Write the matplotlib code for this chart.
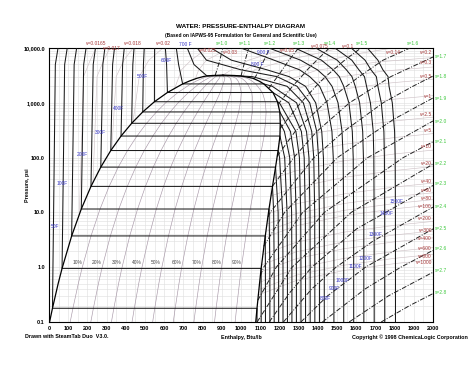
import numpy as np
import matplotlib
matplotlib.use('Agg')
import matplotlib.pyplot as plt
from matplotlib.ticker import FixedLocator, NullFormatter

plt.rcParams['font.family'] = ['Liberation Sans', 'DejaVu Sans']

# saturation dome: pressure (psia), sat. liquid / sat. vapour enthalpy (Btu/lb)
SAT_P = [0.1, 0.178, 0.5, 0.95, 3.72, 11.53, 29.82, 67.03, 134.6, 247.3, 422.5,
         680.9, 1045.7, 1541.7, 2209.6, 2500, 2800, 3000, 3094, 3150, 3200.1]
SAT_HF = [3.0, 18.07, 47.6, 68.05, 118.0, 168.1, 218.6, 269.7, 321.8, 375.2, 430.5,
          488.1, 549.1, 616.9, 696.0, 731.7, 770, 802, 822.4, 850, 906]
SAT_HG = [1076.8, 1083.4, 1096.4, 1105.0, 1126.4, 1145.8, 1164.0, 1180.0, 1193.2, 1202.9, 1204.6,
          1202.2, 1190.0, 1166.4, 1119.0, 1093.3, 1062, 1020, 995.6, 966, 906]

QUALITY = [0.1, 0.2, 0.3, 0.4, 0.5, 0.6, 0.7, 0.8, 0.9]

# pressure grid for superheated isotherm values
P_GRID = [0.1, 1, 10, 100, 300, 1000, 2000, 3000, 4000, 6000, 10000]

# sub-critical isotherms (F)
SUB_T = [50, 100, 150, 200, 250, 300, 350, 400, 450, 500, 550, 600, 650, 700]
SUB_PSAT = [0.178, 0.95, 3.72, 11.53, 29.82, 67.03, 134.6, 247.3, 422.5, 680.9, 1045.7, 1541.7, 2209.6, 3094]
SUB_HF = [18.07, 68.05, 118.0, 168.1, 218.6, 269.7, 321.8, 375.2, 430.5, 488.1, 549.1, 616.9, 696.0, 822.4]
SUB_HG = [1083.4, 1105.0, 1126.4, 1145.8, 1164.0, 1180.0, 1193.2, 1202.9, 1204.6, 1202.2, 1190.0, 1166.4, 1119.0, 995.6]
SUB_H5000 = [33, 81.5, 131, 180.6, 230.3, 280.3, 331.3, 383.4, 436.5, 491.8, 549.5, 612.4, 675, 755]
SUB_H10000 = [47, 95, 144, 193, 242, 291, 341, 392, 443, 496, 550, 606, 663, 720]
# vapour enthalpy on P_GRID points below saturation
SUB_VAP = [
    [1083.7],
    [1105.2],
    [1127.5, 1127.1],
    [1150.2, 1150.1, 1146.6],
    [1172.9, 1172.8, 1170.2],
    [1195.8, 1195.7, 1193.4],
    [1218.8, 1218.7, 1216.9, 1200.9],
    [1241.9, 1241.8, 1240.0, 1227.5],
    [1265.2, 1265.1, 1263.6, 1253.7, 1226.0],
    [1288.6, 1288.5, 1287.1, 1279.1, 1257.5],
    [1312.3, 1312.2, 1311.0, 1304.2, 1286.0, 1200.0],
    [1336.2, 1336.1, 1335.0, 1329.1, 1314.5, 1248.8],
    [1360.3, 1360.2, 1359.4, 1354.1, 1341.2, 1289.5, 1163.0],
    [1384.6, 1384.5, 1383.8, 1378.9, 1368.3, 1324.7, 1240.0, 1060.0],
]

# super-critical isotherms, enthalpy on the whole P_GRID
SUP_T = [750, 800, 900, 1000, 1100, 1200, 1300, 1400, 1500]
SUP_H = [
    [1409.1, 1409.0, 1408.4, 1403.9, 1394.5, 1358, 1292, 1188, 1000, 820, 772],
    [1433.8, 1433.7, 1433.1, 1429.3, 1420.6, 1389.0, 1335.9, 1251, 1135, 950, 844],
    [1483.9, 1483.8, 1483.4, 1480.6, 1473.6, 1448.1, 1409.7, 1358, 1305, 1172, 999],
    [1535.0, 1534.9, 1534.5, 1532.1, 1526.2, 1505.4, 1474.1, 1438, 1398, 1310, 1146],
    [1586.9, 1586.8, 1586.5, 1584.5, 1579.7, 1562, 1535, 1512, 1480, 1419, 1281],
    [1639.8, 1639.7, 1639.4, 1637.7, 1633.8, 1617.8, 1595.2, 1578, 1549, 1501, 1389],
    [1693.7, 1693.6, 1693.3, 1691.8, 1688.7, 1674, 1654, 1643, 1614, 1577, 1489],
    [1748.6, 1748.5, 1748.3, 1746.9, 1744.2, 1730.6, 1713, 1705, 1677, 1646, 1574],
    [1804.6, 1804.5, 1804.3, 1803, 1800, 1788, 1771, 1766, 1739, 1713, 1658],
]

# isentropes (Btu/lb-R): points (h, p)
S_VALS = [1.0, 1.1, 1.2, 1.3, 1.4, 1.5, 1.6, 1.7, 1.8, 1.9, 2.0, 2.1, 2.2, 2.3, 2.4, 2.5, 2.6, 2.7, 2.8]
S_H = [
    [865, 875, 890, 905],
    [1000, 1008, 1022, 1040],
    [1070, 1095, 1120, 1150],
    [1145, 1190, 1215, 1250, 1300],
    [1193, 1268, 1315, 1345, 1395, 1460],
    [1204, 1311, 1390, 1440, 1540, 1625],
    [1188, 1282, 1437, 1615, 1740, 1880],
    [1164, 1275, 1395, 1565, 1780, 2000],
    [1141, 1152, 1380, 1535, 1740, 1895, 2000],
    [1118, 1227, 1502, 1795, 2000],
    [1101, 1118, 1321, 1660, 2000],
    [1088, 1184, 1434, 1845, 2000],
    [1084, 1266, 1574, 2000],
    [1147, 1256, 1369, 1602, 2000],
    [1221, 1368, 1495, 1688, 2000],
    [1312, 1451, 1648, 2000],
    [1424, 1646, 1832, 2000],
    [1563, 1768, 2000],
    [1730, 1879, 2000],
]
S_P = [
    [3150, 4000, 6000, 10000],
    [3070, 4000, 6000, 10000],
    [2750, 4000, 6000, 10000],
    [1850, 3000, 4000, 6000, 10000],
    [930, 2000, 3000, 4000, 6000, 10000],
    [340, 1000, 2000, 3000, 6000, 10000],
    [105, 300, 1000, 3000, 6000, 10000],
    [30, 100, 300, 1000, 3000, 6850],
    [8.3, 10, 100, 300, 1000, 2000, 3080],
    [2.4, 10, 100, 500, 1225],
    [0.7, 1, 10, 100, 466],
    [0.25, 1, 10, 100, 195],
    [0.1, 1, 10, 76],
    [0.1, 0.35, 1, 5, 31],
    [0.1, 0.4, 1, 3, 12.5],
    [0.1, 0.3, 1, 5.0],
    [0.1, 0.4, 1, 2.03],
    [0.1, 0.3, 0.81],
    [0.1, 0.2, 0.33],
]

# constant specific volume lines (ft3/lb): points (h, p)
V_VALS = [0.0165, 0.017, 0.018, 0.02, 0.025, 0.03, 0.05, 0.075, 0.1, 0.14, 0.2, 0.3, 0.5, 1.0,
          2.5, 5, 10, 20, 40, 60, 80, 100, 200, 300, 400, 600, 800, 1000]
V_H = [
    [158, 180, 215, 245],
    [229, 250, 285, 318],
    [327, 350, 390, 438],
    [437, 470, 520, 594],
    [655, 690, 740, 828],
    [760, 780, 820, 943],
    [906, 950, 1040, 1240],
    [1010, 1025, 1110, 1411],
    [1050, 1070, 1240, 1520],
    [1100, 1360, 1620, 1790],
    [1140, 1270, 1398, 1720, 2000],
    [1175, 1336, 1445, 1745, 2000],
    [1196, 1305, 1485, 1775, 2000],
    [1205, 1240, 1514, 1793, 2000],
    [1197, 1267, 1530, 1802, 2000],
    [1185, 1277, 1533, 1803, 2000],
    [1170, 1285, 1534, 1804, 2000],
    [1156, 1287, 1535, 1804, 2000],
    [1142, 1288, 1535, 1804, 2000],
    [1135, 1288, 1535, 1804, 2000],
    [1130, 1288, 1535, 1804, 2000],
    [1126, 1288, 1535, 1804, 2000],
    [1114, 1288, 1535, 1804, 2000],
    [1107, 1288, 1535, 1804, 2000],
    [1103, 1288, 1535, 1804, 2000],
    [1097, 1288, 1535, 1804, 2000],
    [1093, 1288, 1535, 1804, 2000],
    [1089, 1288, 1535, 1804, 2000],
]
V_P = [
    [9.3, 3000, 6000, 10000],
    [35, 3000, 6000, 10000],
    [143, 3000, 6000, 10000],
    [440, 3000, 6000, 10000],
    [1850, 4000, 6000, 10000],
    [2650, 4000, 6000, 10000],
    [3200, 4000, 6000, 10000],
    [3050, 4000, 6000, 10000],
    [2850, 4000, 6000, 10000],
    [2450, 5100, 8000, 10000],
    [1900, 2800, 3950, 5600, 6700],
    [1400, 2000, 2750, 3800, 4500],
    [890, 1250, 1700, 2300, 2700],
    [460, 540, 855, 1160, 1350],
    [180, 229, 348, 467, 548],
    [90, 114, 174, 233, 274],
    [42, 57.2, 87, 117, 137],
    [20, 28.6, 43.5, 58.4, 68.5],
    [9.5, 14.3, 21.7, 29.2, 34.3],
    [6.1, 9.53, 14.5, 19.5, 22.8],
    [4.5, 7.15, 10.87, 14.6, 17.1],
    [3.5, 5.72, 8.70, 11.67, 13.7],
    [1.7, 2.86, 4.35, 5.84, 6.85],
    [1.1, 1.91, 2.90, 3.89, 4.57],
    [0.82, 1.43, 2.17, 2.92, 3.43],
    [0.53, 0.953, 1.449, 1.945, 2.28],
    [0.39, 0.715, 1.087, 1.459, 1.71],
    [0.31, 0.572, 0.870, 1.167, 1.37],
]

X_TICKS = list(range(0, 2001, 100))
Y_TICKS = [0.1, 1, 10, 100, 1000, 10000]
Y_LABELS = ['0.1', '1.0', '10.0', '100.0', '1,000.0', '10,000.0']

W, H = 474, 365
fig = plt.figure(figsize=(W / 100, H / 100), dpi=100)
ax = fig.add_axes([49 / W, 1 - 322 / H, 384 / W, 274 / H])
ax.set_yscale('log')
ax.set_xlim(0, 2000)
ax.set_ylim(0.1, 10000)

# grid
ax.xaxis.set_major_locator(FixedLocator(X_TICKS))
ax.xaxis.set_minor_locator(FixedLocator(list(range(50, 2000, 100))))
ax.yaxis.set_major_locator(FixedLocator(Y_TICKS))
minors = [m * 10.0 ** e for e in range(-1, 4) for m in range(2, 10)]
ax.yaxis.set_minor_locator(FixedLocator(minors))
ax.yaxis.set_minor_formatter(NullFormatter())
ax.grid(True, which='both', color='#dedede', lw=0.4)
ax.set_axisbelow(True)
ax.set_xticklabels([str(t) for t in X_TICKS], fontsize=4.0, fontweight='bold')
ax.set_yticklabels(Y_LABELS, fontsize=4.0, fontweight='bold')
ax.tick_params(which='both', length=0, pad=3)
for sp in ax.spines.values():
    sp.set_linewidth(0.8)

sat_p = np.array(SAT_P)
hf = np.array(SAT_HF)
hg = np.array(SAT_HG)

# quality lines
for q in QUALITY:
    ax.plot(hf + q * (hg - hf), sat_p, color='#a898a8', lw=0.45, zorder=2)

# specific volume lines
for hv, pv in zip(V_H, V_P):
    ax.plot(hv, pv, color='#d0c4c8', lw=0.45, zorder=2)

# isotherms
iso_kw = dict(color='#1a1a1a', lw=0.75, zorder=4)
for i, t in enumerate(SUB_T):
    ps = SUB_PSAT[i]
    low_p = [p for p in P_GRID if p < ps]
    hs = [SUB_H10000[i], SUB_H5000[i], SUB_HF[i], SUB_HG[i]] + SUB_VAP[i][::-1]
    pp = [10000, 5000, ps, ps] + low_p[::-1]
    ax.plot(hs, pp, **iso_kw)
for i, t in enumerate(SUP_T):
    ax.plot(SUP_H[i], P_GRID, **iso_kw)

# isentropes
for hs, ps in zip(S_H, S_P):
    ax.plot(hs, ps, color='#222222', lw=0.7, dashes=(5, 1.6, 1, 1.6), zorder=5)

# dome
ax.plot(hf, sat_p, color='black', lw=0.9, zorder=6)
ax.plot(hg, sat_p, color='black', lw=0.9, zorder=6)


def ftext(x, y, s, **kw):
    fig.text(x / W, 1 - y / H, s, **kw)


ftext(241, 27, 'WATER: PRESSURE-ENTHALPY DIAGRAM', fontsize=4.6, fontweight='bold', ha='center', va='center')
ftext(241, 35, '(Based on IAPWS-95 Formulation for General and Scientific Use)', fontsize=3.5,
      fontweight='bold', ha='center', va='center')
ftext(27, 185, 'Pressure, psi', fontsize=3.9, fontweight='bold', rotation=90, ha='center', va='center')
ftext(25, 337, 'Drawn with SteamTab Duo  V3.0.', fontsize=3.9, fontweight='bold', ha='left', va='center')
ftext(241, 337, 'Enthalpy, Btu/lb', fontsize=3.9, fontweight='bold', ha='center', va='center')
ftext(352, 337, 'Copyright \u00a9 1998 ChemicaLogic Corporation', fontsize=3.9, fontweight='bold',
      ha='left', va='center')

# temperature labels
blue = '#3a3ac8'
T_LABELS = [('50F', 55, 227), ('100F', 62, 183), ('200F', 82, 154), ('300F', 100, 132),
            ('400F', 119, 109), ('500F', 142, 76), ('600F', 166, 61), ('700 F', 185, 44),
            ('900 F', 263, 53), ('800 F', 257, 65),
            ('800F', 325, 298), ('900F', 334, 289), ('1000F', 343, 280), ('1100F', 355, 267),
            ('1200F', 366, 258), ('1300F', 376, 235), ('1400F', 387, 213), ('1500F', 397, 202)]
for s, x, y in T_LABELS:
    ftext(x, y, s, fontsize=3.5, color=blue, ha='center', va='center')

# entropy labels
green = '#3cc83c'
top_s = [222, 245, 270, 299, 330, 362, 413]
for s, x in zip(S_VALS[:7], top_s):
    ftext(x, 43.5, 's=%.1f' % s, fontsize=3.5, color=green, ha='center', va='center')
right_s = [57, 76, 98, 121, 141, 164, 183, 207, 229, 249, 271, 293]
for s, y in zip(S_VALS[7:], right_s):
    ftext(441, y, 's=%.1f' % s, fontsize=3.5, color=green, ha='center', va='center')

# volume labels
red = '#a83a3a'
V_TOP = [('v=0.0165', 96, 43.5), ('v=0.017', 112, 48), ('v=0.018', 133, 43.5), ('v=0.02', 163, 43.5),
         ('v=0.025', 208, 50), ('v=0.03', 230, 52), ('v=0.05', 287, 51), ('v=0.075', 320, 47),
         ('v=0.1', 348, 47), ('v=0.14', 393, 52)]
for s, x, y in V_TOP:
    ftext(x, y, s, fontsize=3.5, color=red, ha='center', va='center')
right_v = [53, 63, 77, 97, 115, 130, 147, 164, 181, 191, 199, 207, 218, 231, 239, 248, 256, 262]
for v, y in zip(V_VALS[10:], right_v):
    ftext(432, y, 'v=%g' % v, fontsize=3.5, color=red, ha='right', va='center')

# quality labels
for q, x in zip(QUALITY, [77, 97, 117, 137, 156, 177, 197, 217, 237]):
    ftext(x, 263, '%d%%' % round(q * 100), fontsize=3.5, color='#444444', ha='center', va='center')

fig.savefig('out.png', dpi=100)
